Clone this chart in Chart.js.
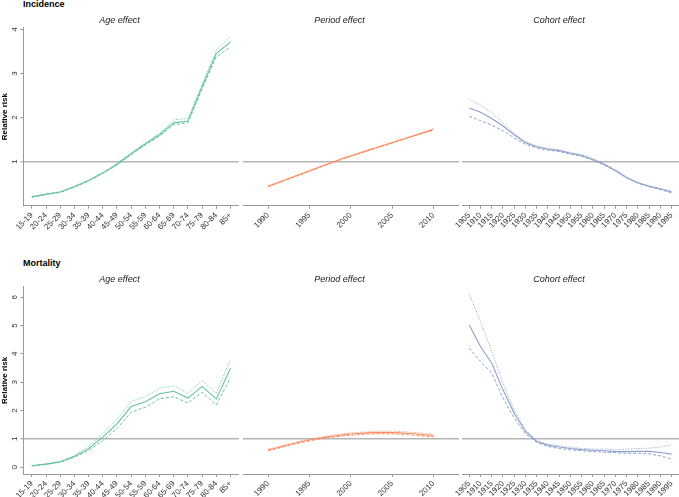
<!DOCTYPE html>
<html><head><meta charset="utf-8">
<script src="https://cdn.jsdelivr.net/npm/chart.js@4/dist/chart.umd.min.js"></script>
<style>
html,body{margin:0;padding:0;background:#fff;width:679px;height:497px;overflow:hidden;position:relative;font-family:"Liberation Sans",Arial,sans-serif;}
canvas{position:absolute;}
.row{position:absolute;font-weight:bold;font-size:9px;line-height:11px;color:#000;white-space:nowrap;}
</style></head><body>
<div class="row" style="left:23px;top:-1px">Incidence</div>
<div class="row" style="left:23px;top:257.5px">Mortality</div>
<script>
// ---------------- DATA ----------------
const ageGroups = ['15-19','20-24','25-29','30-34','35-39','40-44','45-49','50-54','55-59','60-64','65-69','70-74','75-79','80-84','85+'];
const periodYears = [1990,1991,1992,1993,1994,1995,1996,1997,1998,1999,2000,2001,2002,2003,2004,2005,2006,2007,2008,2009,2010];
const cohortYears = [1905,1910,1915,1920,1925,1930,1935,1940,1945,1950,1955,1960,1965,1970,1975,1980,1985,1990,1995];
const periodTicks = [1990,1995,2000,2005,2010];
const cohortTicks = [1905,1910,1915,1920,1925,1930,1935,1940,1945,1950,1955,1960,1965,1970,1975,1980,1985,1990,1995];
const incidenceYTicks = [1,2,3,4];
const mortalityYTicks = [0,1,2,3,4,5,6];

// Incidence
const incAge      = [0.20,0.26,0.31,0.43,0.57,0.74,0.94,1.18,1.40,1.61,1.88,1.92,2.70,3.45,3.72];
const incAgeUpper = [0.21,0.27,0.32,0.44,0.58,0.76,0.96,1.20,1.43,1.64,1.95,1.98,2.76,3.53,3.84];
const incAgeLower = [0.19,0.25,0.30,0.42,0.56,0.73,0.92,1.16,1.38,1.58,1.84,1.88,2.65,3.38,3.60];

const incPeriod      = [0.44,0.51,0.58,0.65,0.72,0.79,0.86,0.93,1.00,1.07,1.13,1.19,1.25,1.31,1.37,1.43,1.49,1.55,1.61,1.67,1.73];
const incPeriodUpper = [0.45,0.52,0.59,0.66,0.73,0.80,0.87,0.94,1.01,1.08,1.14,1.20,1.26,1.32,1.38,1.44,1.50,1.56,1.62,1.68,1.75];
const incPeriodLower = [0.43,0.50,0.57,0.64,0.71,0.78,0.85,0.92,0.99,1.06,1.12,1.18,1.24,1.30,1.36,1.42,1.48,1.54,1.60,1.66,1.71];

const incCohort      = [2.22,2.12,1.98,1.81,1.61,1.43,1.34,1.28,1.25,1.19,1.14,1.05,0.94,0.80,0.64,0.52,0.44,0.38,0.31];
const incCohortUpper = [2.42,2.28,2.11,1.88,1.64,1.45,1.36,1.30,1.27,1.21,1.16,1.07,0.95,0.81,0.65,0.53,0.45,0.39,0.33];
const incCohortLower = [2.03,1.93,1.83,1.70,1.54,1.39,1.31,1.26,1.23,1.17,1.12,1.03,0.92,0.79,0.63,0.51,0.43,0.37,0.29];

// Mortality
const morAge      = [0.05,0.11,0.19,0.38,0.65,1.06,1.53,2.14,2.31,2.59,2.68,2.44,2.85,2.41,3.49];
const morAgeUpper = [0.06,0.12,0.21,0.41,0.73,1.18,1.69,2.32,2.49,2.79,2.88,2.61,3.06,2.61,3.81];
const morAgeLower = [0.04,0.10,0.17,0.35,0.58,0.94,1.36,1.94,2.12,2.41,2.49,2.26,2.64,2.20,3.16];

const morPeriod      = [0.61,0.68,0.76,0.83,0.90,0.96,1.01,1.06,1.10,1.14,1.17,1.19,1.21,1.22,1.22,1.22,1.21,1.19,1.17,1.14,1.12];
const morPeriodUpper = [0.64,0.71,0.79,0.86,0.93,0.99,1.04,1.09,1.14,1.18,1.21,1.23,1.25,1.26,1.27,1.27,1.26,1.24,1.22,1.19,1.17];
const morPeriodLower = [0.58,0.65,0.73,0.80,0.87,0.93,0.98,1.03,1.06,1.10,1.13,1.15,1.17,1.18,1.18,1.18,1.16,1.14,1.12,1.09,1.07];

const morCohort      = [5.02,4.26,3.67,2.73,1.90,1.26,0.91,0.78,0.71,0.66,0.62,0.60,0.58,0.55,0.55,0.56,0.56,0.52,0.46];
const morCohortUpper = [6.10,5.14,4.08,2.96,2.02,1.32,0.94,0.81,0.75,0.71,0.66,0.64,0.64,0.61,0.64,0.66,0.67,0.71,0.79];
const morCohortLower = [4.20,3.73,3.32,2.44,1.73,1.18,0.87,0.73,0.66,0.61,0.58,0.55,0.53,0.51,0.49,0.49,0.47,0.40,0.29];

// ---------------- STYLE / LAYOUT ----------------
const FONT = '"Liberation Sans", Arial, sans-serif';
const GREEN = '#66C2A5', ORANGE = '#FC8D62', BLUE = '#8DA0CB';
const AXIS = '#9a9a9a';
const YW = 23.3;
const ageIdx = ageGroups.map((_, i) => i);

function sets(xs, mid, up, lo, color) {
  const pts = arr => arr.map((v, i) => ({x: xs[i], y: v}));
  return [
    {data: pts(up), borderColor: color, borderWidth: 1, borderDash: [1, 1.6], pointRadius: 0, fill: false},
    {data: pts(lo), borderColor: color, borderWidth: 1, borderDash: [3, 2], pointRadius: 0, fill: false},
    {data: pts(mid), borderColor: color, borderWidth: 1.1, pointRadius: 0, fill: false}
  ];
}

function panel(o) {
  const cv = document.createElement('canvas');
  cv.width = o.w; cv.height = o.h;
  cv.style.left = o.left + 'px'; cv.style.top = o.top + 'px';
  cv.style.width = o.w + 'px'; cv.style.height = o.h + 'px';
  document.body.appendChild(cv);
  new Chart(cv, {
    type: 'line',
    data: {datasets: o.datasets},
    options: {
      responsive: false, animation: false, devicePixelRatio: 1,
      layout: {padding: {left: 0, right: o.padRight || 0, top: 0, bottom: 0}},
      plugins: {
        legend: {display: false}, tooltip: {enabled: false},
        title: {display: true, text: o.title, color: '#222',
          font: {family: FONT, size: 9, style: 'italic', weight: 'normal', lineHeight: 1.2},
          padding: {top: o.tp, bottom: o.tb}}
      },
      scales: {
        x: {
          type: 'linear', min: o.xmin, max: o.xmax,
          afterBuildTicks: s => { s.ticks = o.xticks.map(v => ({value: v})); },
          afterFit: s => { s.height = o.xh; s.paddingLeft = 0; s.paddingRight = 0; },
          grid: {drawOnChartArea: false, drawTicks: true, tickLength: 3, tickColor: AXIS, color: AXIS, tickWidth: 1},
          border: {display: true, color: AXIS, width: 1},
          ticks: {autoSkip: false, minRotation: 45, maxRotation: 45, padding: 2, color: '#333',
            font: {family: FONT, size: 8}, callback: o.xlabel}
        },
        y: {
          type: 'linear', min: o.ymin, max: o.ymax,
          afterBuildTicks: s => { s.ticks = o.yticks.map(v => ({value: v})); },
          afterFit: s => { s.width = YW; s.paddingTop = 0; s.paddingBottom = 0; },
          grid: {drawOnChartArea: true, drawTicks: o.showY, tickLength: 3, tickColor: AXIS, tickWidth: 1,
            color: c => (c.tick && c.tick.value === 1) ? '#b5b5b5' : 'rgba(0,0,0,0)',
            lineWidth: c => (c.tick && c.tick.value === 1) ? 1.5 : 1},
          border: {display: o.showY, color: AXIS, width: 1},
          ticks: {display: o.showY, minRotation: 90, maxRotation: 90, crossAlign: 'center', padding: 3,
            color: '#333', font: {family: FONT, size: 8}, callback: v => String(v)},
          title: {display: o.showY, text: 'Relative risk', color: '#000',
            font: {family: FONT, size: 8, weight: 'bold', lineHeight: 1}, padding: {top: 1, bottom: 0}}
        }
      }
    }
  });
}

const cols = [
  {left: 0, w: 239},
  {left: 220, w: 239},
  {left: 439, w: 240}
];
const rows = [
  {top: 14, h: 236, tp: 1.3, tb: 1.6, xh: 44.3, ymin: 0, ymax: 4.04, yticks: incidenceYTicks},
  {top: 272, h: 225, tp: 1.9, tb: 2.0, xh: 23, ymin: -0.24, ymax: 6.37, yticks: mortalityYTicks}
];
const ageX = {xmin: -0.6, xmax: 14.6, xticks: ageIdx, xlabel: v => ageGroups[v]};
const perX = {xmin: 1987, xmax: 2013.1, xticks: periodTicks, xlabel: v => String(v)};
const cohX = {xmin: 1901.9, xmax: 1998.3, xticks: cohortTicks, xlabel: v => String(v)};

const specs = [
  [0, 0, 'Age effect', ageX, sets(ageIdx, incAge, incAgeUpper, incAgeLower, GREEN), true],
  [0, 1, 'Period effect', perX, sets(periodYears, incPeriod, incPeriodUpper, incPeriodLower, ORANGE), false],
  [0, 2, 'Cohort effect', cohX, sets(cohortYears, incCohort, incCohortUpper, incCohortLower, BLUE), false],
  [1, 0, 'Age effect', ageX, sets(ageIdx, morAge, morAgeUpper, morAgeLower, GREEN), true],
  [1, 1, 'Period effect', perX, sets(periodYears, morPeriod, morPeriodUpper, morPeriodLower, ORANGE), false],
  [1, 2, 'Cohort effect', cohX, sets(cohortYears, morCohort, morCohortUpper, morCohortLower, BLUE), false]
];

specs.forEach(([r, c, title, xs, ds, showY]) => {
  const R = rows[r], C = cols[c];
  panel(Object.assign({}, xs, {
    left: C.left, w: C.w, top: R.top, h: R.h, tp: R.tp, tb: R.tb, xh: R.xh,
    ymin: R.ymin, ymax: R.ymax, yticks: R.yticks, title, datasets: ds, showY
  }));
});
</script>
</body></html>
